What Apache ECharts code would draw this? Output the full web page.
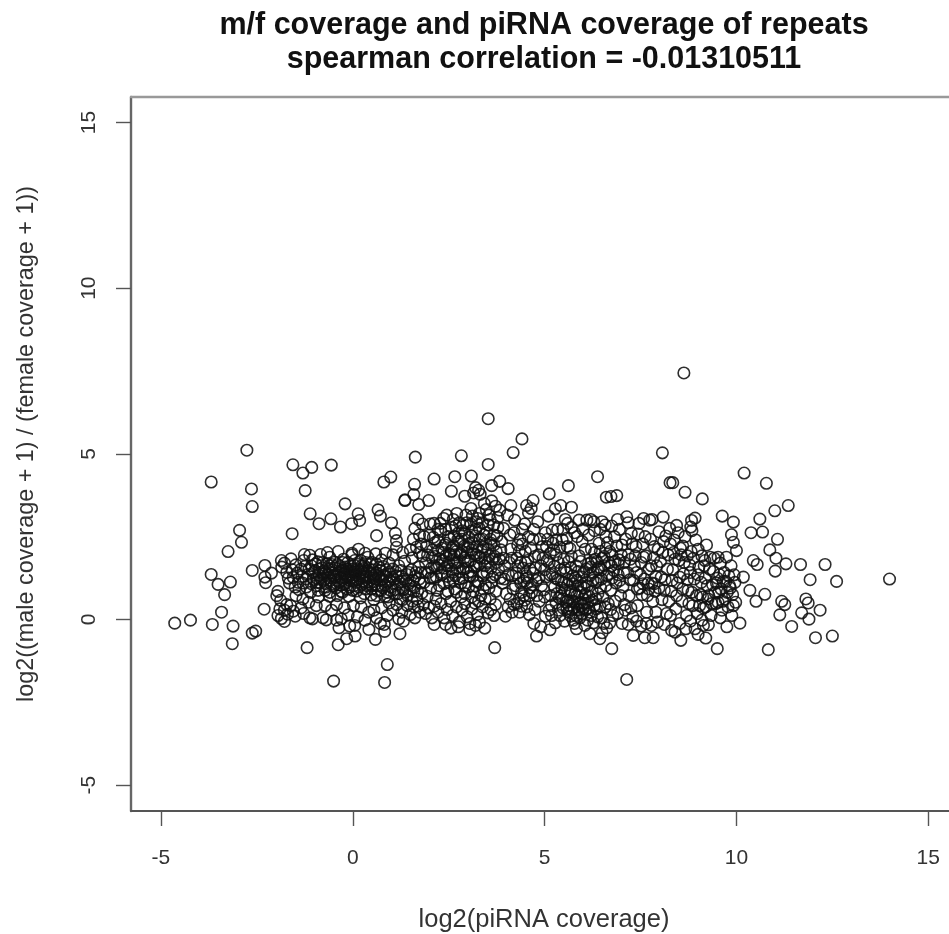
<!DOCTYPE html>
<html><head><meta charset="utf-8">
<style>html,body{margin:0;padding:0;background:#fff;overflow:hidden}#c{width:949px;height:934px}</style>
<script src="https://cdn.jsdelivr.net/npm/echarts@6/dist/echarts.min.js"></script>
</head><body><div id="c"></div>
<script>
const titleLines = ["m/f coverage and piRNA coverage of repeats", "spearman correlation = -0.01310511"];
const xLabel = "log2(piRNA coverage)";
const yLabel = "log2((male coverage + 1) / (female coverage + 1))";
const xTicks = [-5, 0, 5, 10, 15];
const yTicks = [-5, 0, 5, 10, 15];

const outliersLeft = [[-2.76,5.11],[-3.69,4.15],[-1.56,4.67],[-1.30,4.42],[-1.07,4.59],[-0.56,4.66],[-2.64,3.94],[-2.62,3.41],[-1.24,3.89],[-0.20,3.49],[-1.11,3.19],[-0.88,2.89],[-0.57,3.04],[-0.32,2.79],[-0.03,2.89],[0.18,2.99],[0.14,3.19],[-2.95,2.69],[-2.90,2.33],[-3.25,2.05],[-1.58,2.59],[-3.69,1.36],[-3.51,1.06],[-3.19,1.13],[-3.34,0.75],[-3.42,0.22],[-4.64,-0.11],[-4.23,-0.02],[-3.66,-0.15],[-3.12,-0.20],[-3.14,-0.73],[-2.62,-0.41],[-2.53,-0.35],[-2.62,1.48],[-2.29,1.63],[-2.12,1.40],[-2.29,1.28],[-2.27,1.11],[-2.31,0.31],[-1.86,1.78],[-1.19,-0.85],[-0.50,-1.86],[0.83,-1.90],[0.90,-1.36],[-0.38,-0.76],[-0.16,-0.58],[0.06,-0.50],[0.59,-0.60],[0.83,-0.36],[1.23,-0.43],[-1.05,0.02],[-0.69,-0.01],[-0.36,-0.25],[0.05,-0.18],[0.66,3.31],[0.72,3.12],[0.81,4.15],[0.99,4.30],[1.36,3.61],[1.01,2.92],[1.11,2.60],[1.14,2.38],[1.14,2.18],[0.62,2.53]];

const outliersMiddle = [[3.53,6.06],[4.41,5.45],[4.18,5.04],[1.63,4.90],[2.83,4.94],[3.53,4.68],[8.07,5.03],[2.12,4.24],[2.66,4.31],[3.09,4.33],[1.61,4.08],[6.38,4.31],[5.62,4.04],[8.27,4.13],[2.57,3.87],[3.83,4.17],[3.62,4.04],[4.05,3.95],[3.20,3.98],[3.28,3.90],[3.15,3.82],[3.32,3.78],[2.92,3.72],[1.36,3.59],[1.59,3.77],[1.72,3.47],[1.98,3.59],[5.12,3.79],[6.61,3.69],[6.73,3.71],[6.88,3.74],[4.12,3.44],[4.70,3.59],[4.53,3.44],[4.65,3.35],[5.70,3.39],[5.42,3.44],[5.28,3.34],[8.09,3.09],[3.70,-0.85],[7.14,-1.81],[2.12,-0.15],[2.56,-0.26],[3.05,-0.31],[3.44,-0.26],[3.98,0.10],[4.79,-0.50],[5.14,-0.31],[5.83,-0.28],[6.75,-0.88],[6.44,-0.58],[6.18,-0.43],[7.31,-0.48],[7.61,-0.55],[7.83,-0.55],[8.31,-0.33]];

const outliersRight = [[8.63,7.44],[10.20,4.42],[10.78,4.11],[11.35,3.44],[11.00,3.28],[9.63,3.12],[9.92,2.94],[10.61,3.03],[10.38,2.62],[10.68,2.64],[11.07,2.42],[9.87,2.56],[9.92,2.33],[10.00,2.08],[10.87,2.10],[11.03,1.85],[10.44,1.78],[10.54,1.66],[11.29,1.68],[11.67,1.66],[12.31,1.66],[11.01,1.46],[11.92,1.20],[12.61,1.15],[13.99,1.22],[10.18,1.28],[10.35,0.88],[10.74,0.76],[10.51,0.55],[11.18,0.55],[11.26,0.45],[11.13,0.14],[11.81,0.62],[11.87,0.50],[12.18,0.28],[11.70,0.20],[11.89,0.01],[11.44,-0.21],[12.50,-0.50],[12.06,-0.55],[10.83,-0.91],[9.50,-0.88],[10.09,-0.11],[8.55,-0.63],[9.20,-0.56],[9.00,-0.45],[9.14,-0.18],[9.27,-0.16],[8.34,4.13],[8.66,3.84],[9.11,3.64],[8.92,3.06],[8.83,2.99],[8.81,2.79],[8.44,2.84]];

const clusterLeft = [[-1.85,1.58],[-1.72,1.42],[-1.61,1.83],[-1.55,1.27],[-1.48,1.65],[-1.42,1.12],[-1.35,1.52],[-1.28,1.78],[-1.21,0.98],[-1.17,1.36],[-1.12,1.94],[-1.08,1.62],[-1.02,1.21],[-0.98,1.47],[-0.95,1.02],[-0.91,1.74],[-0.87,1.33],[-0.84,1.96],[-0.8,1.56],[-0.76,1.18],[-0.72,0.88],[-0.7,1.42],[-0.67,1.68],[-0.63,1.26],[-0.6,1.88],[-0.56,1.07],[-0.53,1.5],[-0.5,1.32],[-0.47,1.73],[-0.44,0.95],[-0.41,1.18],[-0.38,2.05],[-0.36,1.42],[-0.33,1.6],[-0.3,1.24],[-0.27,0.82],[-0.24,1.82],[-0.22,1.37],[-0.19,1.08],[-0.16,1.52],[-0.13,1.72],[-0.11,1.28],[-0.08,0.98],[-0.05,1.44],[-0.02,1.95],[0.01,1.16],[0.04,1.63],[0.07,1.35],[0.1,0.86],[0.13,1.52],[0.15,2.12],[0.18,1.24],[0.21,1.78],[0.24,1.05],[0.27,1.42],[0.3,1.62],[0.33,0.92],[0.36,1.3],[0.39,1.88],[0.42,1.14],[0.45,1.5],[0.48,0.74],[0.51,1.72],[0.54,1.26],[0.57,1.04],[0.6,1.98],[0.63,1.4],[0.66,0.86],[0.69,1.58],[0.72,1.18],[0.75,1.8],[0.78,0.96],[0.81,1.34],[0.85,0.7],[0.88,1.5],[0.91,1.12],[0.95,1.7],[0.98,0.88],[1.02,1.28],[1.05,1.95],[1.09,0.76],[1.12,1.44],[1.16,1.06],[1.2,1.62],[1.24,0.62],[1.27,1.3],[1.31,0.9],[1.35,1.76],[1.39,1.16],[1.43,0.72],[1.47,1.42],[1.51,1.02],[1.55,1.86],[1.59,0.84],[1.63,1.3],[1.68,0.62],[1.72,1.58],[1.76,1.1],[1.8,0.8],[-1.65,1.1],[-1.4,0.9],[-1.25,1.6],[-1.1,0.82],[-0.94,1.25],[-0.78,1.38],[-0.62,1.52],[-0.45,1.28],[-0.32,1.04],[-0.18,1.25],[-0.06,1.34],[0.08,1.12],[0.22,1.5],[0.35,1.12],[0.48,1.38],[0.6,1.22],[-0.85,1.1],[-0.55,1.66],[-0.25,1.48],[0.02,1.42],[0.26,1.28],[0.5,1.02],[-1.05,1.8],[-0.7,0.98],[-0.4,0.72],[-0.1,0.7],[0.2,0.65],[0.55,0.6],[0.95,0.5],[1.15,0.45],[1.42,0.42],[1.7,0.4],[-0.02,2.0],[0.32,2.0],[-0.66,2.02],[-1.26,1.96]];

const coreLeft = [[-1.02,1.42],[-0.97,1.68],[-0.92,1.12],[-0.88,1.52],[-0.83,1.24],[-0.79,1.72],[-0.74,1.46],[-0.71,1.08],[-0.65,1.36],[-0.61,1.62],[-0.58,1.18],[-0.54,1.42],[-0.49,1.02],[-0.46,1.55],[-0.43,1.36],[-0.39,1.66],[-0.35,1.12],[-0.31,1.46],[-0.28,1.28],[-0.26,1.72],[-0.23,1.06],[-0.2,1.58],[-0.17,1.34],[-0.14,0.92],[-0.12,1.46],[-0.09,1.18],[-0.07,1.62],[-0.03,1.26],[0.0,1.52],[0.03,1.02],[0.05,1.78],[0.09,1.44],[0.11,1.2],[0.14,1.66],[0.16,0.98],[0.19,1.38],[0.23,1.62],[0.25,1.16],[0.28,1.54],[0.31,1.3],[0.34,1.72],[0.37,1.02],[0.4,1.46],[0.43,1.28],[0.46,1.66],[0.49,0.92],[0.52,1.5],[0.55,1.14],[0.58,1.36],[0.61,1.68],[0.65,1.02],[0.68,1.3],[0.71,1.48],[0.74,0.88],[0.77,1.22],[0.8,1.6],[0.84,1.04],[0.87,1.3],[0.9,0.82],[0.93,1.42],[0.97,1.18],[1.0,0.98],[1.04,1.52],[1.07,1.22],[1.11,0.9],[1.14,1.32],[1.18,0.78],[1.22,1.14],[1.26,1.48],[1.29,0.96],[1.33,1.22],[1.37,0.82],[1.41,1.36],[1.45,1.08],[1.49,0.92],[1.53,1.5],[1.57,1.18],[1.61,0.98],[1.65,1.42],[1.69,0.86],[1.73,1.22],[1.78,1.42],[-1.32,1.3],[-1.22,1.22],[-1.14,1.52],[-1.08,1.08],[-1.45,1.4],[-1.58,1.5],[-1.78,1.7],[-1.68,1.25],[-1.5,0.98],[-1.3,1.1],[-0.9,0.88],[-0.6,0.82],[-0.3,0.85],[0.0,0.88],[0.3,0.78],[0.62,0.72],[0.92,0.68],[1.3,0.6],[1.55,0.55],[1.82,1.92],[1.74,2.02],[1.5,2.1],[1.3,2.02],[0.85,2.0]];

const clusterLowerLeft = [[-1.95,0.85],[-1.98,0.72],[-1.88,0.58],[-1.72,0.45],[-1.9,0.32],[-1.78,0.28],[-1.7,0.16],[-1.95,0.12],[-1.86,0.03],[-1.78,-0.06],[-1.62,0.42],[-1.55,0.25],[-1.48,0.72],[-1.5,0.1],[-1.35,0.35],[-1.3,0.62],[-1.28,0.18],[-1.12,0.05],[-1.15,0.52],[-0.95,0.42],[-0.9,0.68],[-0.78,0.05],[-0.72,0.42],[-0.6,0.7],[-0.55,0.28],[-0.42,0.45],[-0.3,0.02],[-0.22,0.35],[-0.12,0.14],[0.02,0.42],[0.12,0.08],[0.22,0.38],[0.32,-0.02],[0.42,0.22],[0.55,0.28],[0.62,0.05],[0.75,0.35],[0.82,-0.15],[0.9,0.12],[1.05,0.28],[1.2,0.02],[1.28,0.22],[1.5,0.15],[1.62,0.05],[1.75,0.22],[-0.42,-0.02],[-0.08,-0.2],[0.42,-0.3],[0.72,-0.12],[1.32,-0.05]];

const clusterCentral = [[1.86,1.12],[1.9,1.7],[1.92,2.2],[1.94,0.7],[1.97,1.42],[2.0,2.55],[2.03,0.95],[2.06,1.86],[2.09,1.25],[2.12,2.9],[2.14,2.32],[2.17,0.62],[2.2,1.55],[2.23,2.08],[2.26,1.02],[2.29,2.66],[2.32,1.35],[2.35,1.78],[2.37,3.05],[2.4,2.25],[2.43,0.78],[2.46,1.62],[2.49,2.5],[2.52,1.12],[2.55,1.95],[2.58,2.78],[2.6,1.42],[2.63,2.22],[2.66,0.92],[2.68,1.7],[2.71,3.2],[2.74,2.42],[2.77,1.22],[2.8,2.0],[2.83,0.68],[2.85,2.68],[2.88,1.52],[2.91,2.22],[2.94,1.02],[2.97,2.92],[3.0,1.75],[3.03,2.48],[3.05,1.3],[3.08,3.35],[3.11,2.1],[3.14,0.85],[3.17,1.58],[3.2,2.72],[3.23,1.15],[3.26,3.05],[3.29,1.9],[3.31,2.42],[3.34,0.72],[3.37,1.42],[3.4,2.18],[3.43,3.5],[3.46,1.05],[3.49,2.62],[3.52,1.72],[3.55,3.15],[3.58,0.62],[3.61,2.3],[3.64,1.28],[3.67,2.85],[3.7,1.9],[3.73,0.85],[3.76,2.52],[3.8,1.5],[3.83,3.3],[3.86,2.1],[3.9,1.1],[3.93,2.75],[3.96,1.62],[4.0,0.78],[4.03,3.15],[2.05,1.55],[2.15,1.9],[2.25,1.65],[2.32,2.15],[2.42,1.92],[2.5,1.72],[2.58,2.15],[2.65,1.95],[2.72,1.55],[2.78,2.35],[2.85,2.05],[2.93,1.78],[3.0,2.18],[3.08,1.45],[3.15,2.3],[3.22,1.95],[3.3,1.68],[3.38,2.42],[3.45,1.85],[3.53,2.12],[3.6,1.55],[3.68,2.25],[3.75,1.72],[2.1,2.48],[2.28,2.9],[2.45,3.15],[2.62,3.02],[2.78,2.92],[2.95,3.15],[3.12,3.12],[3.3,3.2],[3.48,3.32],[3.62,3.58],[3.72,3.42],[2.12,0.4],[2.22,0.22],[2.3,0.48],[2.38,0.05],[2.46,0.3],[2.55,0.55],[2.6,0.12],[2.7,0.38],[2.78,-0.08],[2.85,0.28],[2.92,0.48],[2.98,0.08],[3.05,-0.12],[3.1,0.32],[3.18,0.5],[3.25,0.15],[3.3,-0.08],[3.38,0.38],[3.45,0.62],[3.52,0.2],[3.6,0.3],[3.68,0.12],[3.72,0.45],[2.42,-0.15],[2.75,-0.22],[3.2,-0.18]];

const coreCentral = [[1.88,1.42],[1.95,1.95],[2.02,1.25],[2.08,2.1],[2.13,1.62],[2.18,1.28],[2.22,2.38],[2.27,1.82],[2.31,1.42],[2.36,2.02],[2.39,1.55],[2.44,2.3],[2.47,1.3],[2.51,1.98],[2.54,2.42],[2.57,1.52],[2.61,1.78],[2.64,2.52],[2.67,1.32],[2.7,2.05],[2.73,1.72],[2.76,2.62],[2.79,1.45],[2.82,1.95],[2.84,2.42],[2.87,1.25],[2.9,1.85],[2.92,2.58],[2.95,1.55],[2.98,2.02],[3.01,1.42],[3.04,2.3],[3.07,1.78],[3.1,2.68],[3.13,1.3],[3.16,1.98],[3.19,2.52],[3.21,1.62],[3.24,2.2],[3.27,1.12],[3.3,2.75],[3.33,1.85],[3.36,2.05],[3.39,1.32],[3.42,2.55],[3.44,1.62],[3.47,2.28],[3.5,1.42],[3.53,2.85],[3.56,1.92],[3.59,2.42],[3.62,1.12],[3.65,1.82],[3.68,2.55],[3.71,1.35],[3.74,2.05],[3.78,2.78],[3.82,1.82],[3.85,1.25],[3.88,2.35],[3.92,1.85],[3.95,1.22],[2.62,1.18],[2.82,1.1],[3.02,0.98],[3.2,1.02],[3.4,0.92],[3.55,0.95],[2.38,1.08],[2.2,0.88],[2.48,0.85],[2.7,0.82],[2.92,0.78],[3.1,0.68],[3.28,0.55],[2.02,2.88],[2.22,2.72],[2.42,2.72],[2.68,2.82],[2.88,2.85],[3.08,2.88],[3.22,2.95],[3.38,2.92],[3.58,3.02],[3.78,3.08]];

const clusterMiddle = [[4.06,1.35],[4.1,2.55],[4.14,1.85],[4.18,0.92],[4.22,3.0],[4.26,1.4],[4.3,2.25],[4.34,0.62],[4.38,1.72],[4.42,2.72],[4.46,1.15],[4.5,2.05],[4.54,0.38],[4.58,3.22],[4.62,1.52],[4.66,0.82],[4.7,2.42],[4.74,1.9],[4.78,1.18],[4.82,2.95],[4.86,0.55],[4.9,1.62],[4.94,2.2],[4.98,0.9],[5.02,2.62],[5.06,1.78],[5.1,3.12],[5.14,1.35],[5.18,0.42],[5.22,2.3],[5.26,0.98],[5.3,1.95],[5.34,2.72],[5.38,0.65],[5.42,1.5],[5.46,2.4],[5.5,1.12],[5.54,3.02],[5.58,0.32],[5.62,1.75],[5.66,2.15],[5.7,0.82],[5.74,1.32],[5.78,2.62],[5.82,0.12],[5.86,1.02],[5.9,1.92],[5.94,0.52],[5.98,2.35],[6.02,1.42],[6.06,0.75],[6.1,3.0],[6.14,1.68],[6.18,0.22],[6.22,2.12],[6.26,1.18],[6.3,2.68],[6.34,0.62],[6.38,1.52],[6.42,2.3],[6.46,0.95],[6.5,1.85],[6.54,-0.12],[6.58,2.85],[6.62,1.32],[6.66,0.48],[6.7,2.05],[6.74,1.62],[6.78,0.12],[6.82,2.5],[6.86,1.1],[6.9,3.02],[6.94,1.8],[6.98,0.72],[7.02,2.25],[7.06,1.42],[7.1,0.28],[7.14,3.1],[7.18,1.95],[7.22,1.2],[7.26,2.6],[7.3,0.08],[7.34,1.62],[7.38,2.2],[7.42,0.42],[7.46,2.9],[7.5,1.35],[7.54,0.75],[7.58,1.88],[7.62,2.5],[7.66,0.22],[7.7,1.1],[7.74,3.0],[7.78,1.62],[7.82,0.55],[7.86,2.2],[7.9,1.3],[7.94,-0.08],[7.98,2.65],[4.55,1.1],[4.7,1.4],[4.85,1.25],[5.0,1.5],[5.15,2.0],[5.25,1.6],[5.35,1.2],[5.45,0.95],[5.52,1.55],[5.6,1.05],[5.68,1.55],[5.72,0.55],[5.8,1.25],[5.84,0.72],[5.88,1.45],[5.95,1.02],[6.0,0.32],[6.08,1.12],[6.12,0.5],[6.2,1.58],[6.24,0.85],[6.32,1.82],[6.4,1.18],[6.48,1.5],[6.55,1.9],[6.6,2.15],[6.68,1.72],[6.76,1.25],[6.84,1.75],[6.92,1.35],[5.05,2.2],[5.2,2.7],[5.3,2.4],[5.48,2.72],[5.58,2.45],[5.7,2.78],[5.85,2.5],[6.0,2.72],[6.15,2.55],[6.28,2.95],[6.45,2.72],[6.6,2.5],[6.75,2.82],[4.6,0.15],[4.75,0.3],[4.9,-0.22],[5.02,0.1],[5.12,0.28],[5.28,-0.1],[5.4,0.12],[5.52,-0.05],[5.68,0.1],[5.78,-0.12],[5.92,0.05],[6.05,-0.18],[6.12,-0.02],[6.28,-0.1],[6.38,0.08],[6.5,-0.4],[6.62,-0.25],[6.7,-0.1],[7.02,-0.12],[7.18,-0.15],[7.4,-0.05],[7.52,-0.2],[7.65,-0.12],[7.78,-0.18],[7.9,0.22],[4.35,0.22],[4.48,0.58],[4.72,-0.12],[5.48,0.35],[5.98,0.18],[6.72,0.3],[6.9,0.18],[7.08,0.45],[7.25,0.35]];

const coreMiddle = [[4.08,1.72],[4.12,2.12],[4.16,1.32],[4.2,2.62],[4.24,1.02],[4.28,1.85],[4.32,1.25],[4.36,2.42],[4.4,0.82],[4.44,1.55],[4.48,2.88],[4.52,1.32],[4.56,1.78],[4.6,0.72],[4.64,2.15],[4.68,1.05],[4.72,2.72],[4.76,1.55],[4.8,0.72],[4.84,1.95],[4.88,2.42],[4.92,1.02],[4.96,1.85],[5.0,0.68],[5.04,1.28],[5.08,2.42],[5.12,1.72],[5.16,0.72],[5.2,1.38],[5.24,2.1],[5.28,1.25],[5.32,0.78],[5.36,1.72],[5.4,2.18],[5.44,1.15],[5.47,0.62],[5.5,1.82],[5.53,0.88],[5.56,1.42],[5.59,2.2],[5.61,0.58],[5.64,1.18],[5.67,0.88],[5.7,1.9],[5.73,1.08],[5.76,0.35],[5.79,0.78],[5.82,1.62],[5.85,1.18],[5.88,0.48],[5.91,0.82],[5.94,1.75],[5.97,1.28],[6.0,0.62],[6.03,0.95],[6.06,2.12],[6.09,1.52],[6.12,1.02],[6.15,0.35],[6.18,1.32],[6.21,1.72],[6.24,0.58],[6.27,1.42],[6.3,2.02],[6.33,1.12],[6.36,1.75],[6.39,0.78],[6.42,1.58],[6.45,2.05],[6.48,1.22],[6.52,0.68],[6.56,1.62],[6.6,1.02],[6.64,2.32],[6.68,1.38],[6.72,0.88],[6.76,1.95],[6.8,1.48],[6.84,0.55],[6.88,2.22],[6.92,1.68],[6.96,1.18],[7.0,1.95],[7.04,0.98],[7.08,1.72],[7.12,2.42],[7.16,1.42],[7.2,0.72],[7.24,1.82],[7.28,2.28],[7.32,1.18],[7.36,1.92],[7.4,1.42],[7.44,2.58],[7.48,0.95],[7.52,1.72],[7.56,2.28],[7.6,1.22],[7.64,1.92],[7.68,0.72],[7.72,1.52],[7.76,2.42],[7.8,1.1],[7.84,1.85],[7.88,0.85],[7.92,1.62],[7.96,2.12],[4.2,0.45],[4.4,0.4],[5.3,0.5],[5.18,0.12],[5.62,0.22],[5.75,-0.02],[5.9,0.28],[6.08,0.3],[6.22,0.12],[6.35,0.32],[6.48,0.05],[5.6,2.9],[5.9,3.0],[6.2,3.02],[6.5,2.95],[6.95,2.72],[7.18,2.92],[7.58,3.05],[7.8,3.02]];

const clusterRight = [[8.02,1.75],[8.06,0.6],[8.1,2.35],[8.14,1.2],[8.18,0.18],[8.22,1.95],[8.26,2.75],[8.3,0.85],[8.34,1.5],[8.38,2.4],[8.42,0.32],[8.46,1.1],[8.5,1.78],[8.54,2.15],[8.58,0.55],[8.62,1.38],[8.66,2.5],[8.7,0.12],[8.74,0.88],[8.78,1.65],[8.82,2.05],[8.86,0.42],[8.9,1.22],[8.94,2.4],[8.98,0.18],[9.02,1.58],[9.06,0.75],[9.1,1.92],[9.14,0.35],[9.18,1.25],[9.22,2.25],[9.26,0.62],[9.3,1.52],[9.34,0.12],[9.38,1.05],[9.42,1.85],[9.46,0.48],[9.5,1.25],[9.54,0.82],[9.58,1.7],[9.62,0.28],[9.66,1.15],[9.7,0.62],[9.74,1.88],[9.78,0.38],[9.82,1.02],[9.86,1.62],[9.9,0.75],[9.94,1.35],[9.98,0.52],[9.58,0.05],[9.75,-0.22],[9.88,0.12],[8.12,-0.15],[8.28,0.12],[8.4,-0.38],[8.52,-0.12],[8.68,-0.28],[8.8,-0.05],[8.92,-0.28],[9.1,-0.02],[8.16,2.52],[8.36,2.02],[8.48,2.62],[8.6,2.22],[8.72,1.92],[8.84,2.68],[9.0,2.12],[9.18,1.78],[9.4,1.45],[9.52,1.88],[9.72,1.15],[9.84,0.95],[9.96,1.12]];

const coreRight = [[8.04,1.28],[8.08,2.02],[8.12,0.88],[8.2,1.52],[8.24,0.55],[8.28,2.28],[8.32,1.18],[8.4,1.82],[8.44,0.72],[8.52,1.28],[8.56,1.95],[8.6,0.92],[8.64,1.72],[8.72,1.2],[8.76,0.48],[8.8,1.42],[8.84,0.82],[8.88,1.85],[8.96,0.72],[9.0,1.35],[9.04,0.42],[9.08,1.12],[9.12,0.68],[9.16,1.62],[9.2,0.38],[9.24,1.02],[9.28,0.72],[9.32,1.88],[9.36,0.48],[9.44,0.82],[9.48,1.1],[9.52,0.52],[9.56,1.35],[9.6,0.92],[9.64,0.55],[9.68,1.42],[9.76,0.82],[9.8,1.32],[9.92,0.42]];

const bridgePoints = [[1.58,2.42],[1.62,2.75],[1.66,2.18],[1.7,3.02],[1.74,2.55],[1.78,2.28],[1.82,2.88],[1.86,2.5],[1.6,0.38],[1.84,0.45],[1.9,0.18],[1.98,0.35],[2.06,0.05],[4.05,0.38],[4.1,0.62],[4.15,0.22],[4.28,0.48],[4.3,1.62],[4.34,2.05],[4.38,1.1],[4.42,2.28],[4.46,0.72],[4.5,1.72],[4.54,1.25],[4.58,2.5],[4.62,0.95],[5.36,0.28],[5.42,0.72],[5.56,0.52],[5.64,0.42],[5.7,0.3],[5.78,0.52],[5.86,0.3],[5.96,0.42],[6.04,0.48],[6.16,0.7],[6.3,0.42],[6.44,0.4],[6.58,0.38],[7.42,0.92],[7.56,1.08],[7.72,0.92],[7.86,1.08],[7.98,0.95]];

const allPoints = [].concat(outliersLeft, outliersMiddle, outliersRight, clusterLeft, coreLeft, clusterLowerLeft, clusterCentral, coreCentral, clusterMiddle, coreMiddle, clusterRight, coreRight, bridgePoints);

const chart = echarts.init(document.getElementById('c'), null, {renderer:'canvas'});
const font = '"Liberation Sans", Arial, sans-serif';
const tickBase = {show:true, length:15, inside:false, lineStyle:{color:'#555', width:1.4}};
const labelBase = {fontFamily:font, fontSize:21, color:'#333', showMinLabel:true, showMaxLabel:true};
chart.setOption({
  animation:false,
  backgroundColor:'#fff',
  title:{left:539, top:4, textAlign:'center', text:titleLines.join('\n'),
    textStyle:{fontFamily:font, fontWeight:'bold', fontSize:30.5, color:'#111', lineHeight:34}},
  grid:{left:131, top:97, width:818, height:714, show:false, containLabel:false, outerBoundsMode:'none'},
  xAxis:[{type:'value', min:-5.78, max:15.54, position:'bottom', splitLine:{show:false},
      axisLine:{show:true, onZero:false, lineStyle:{color:'#555', width:1.8}},
      axisTick:Object.assign({}, tickBase, {customValues:xTicks}),
      axisLabel:Object.assign({}, labelBase, {customValues:xTicks, margin:37}),
      name:xLabel, nameLocation:'middle', nameGap:96,
      nameTextStyle:{fontFamily:font, fontSize:25.5, color:'#333', padding:[0,0,0,8]}},
    {type:'value', min:-5.78, max:15.54, position:'top', splitLine:{show:false},
      axisLine:{show:true, onZero:false, lineStyle:{color:'#999', width:2.4}},
      axisTick:{show:false}, axisLabel:{show:false}}],
  yAxis:{type:'value', min:-5.78, max:15.77, splitLine:{show:false},
      axisLine:{show:true, onZero:false, lineStyle:{color:'#666', width:2.4}},
      axisTick:Object.assign({}, tickBase, {customValues:yTicks}),
      axisLabel:Object.assign({}, labelBase, {customValues:yTicks, rotate:90, margin:31}),
      name:yLabel, nameLocation:'middle', nameGap:93,
      nameTextStyle:{fontFamily:font, fontSize:23.4, color:'#333', padding:[0,0,0,20]}},
  series:[{type:'scatter', data:allPoints, xAxisIndex:0, yAxisIndex:0, symbol:'circle', symbolSize:11.5, clip:false,
    itemStyle:{color:'rgba(0,0,0,0)', borderColor:'#111', borderWidth:1.6, opacity:0.88}}]
});
</script></body></html>
